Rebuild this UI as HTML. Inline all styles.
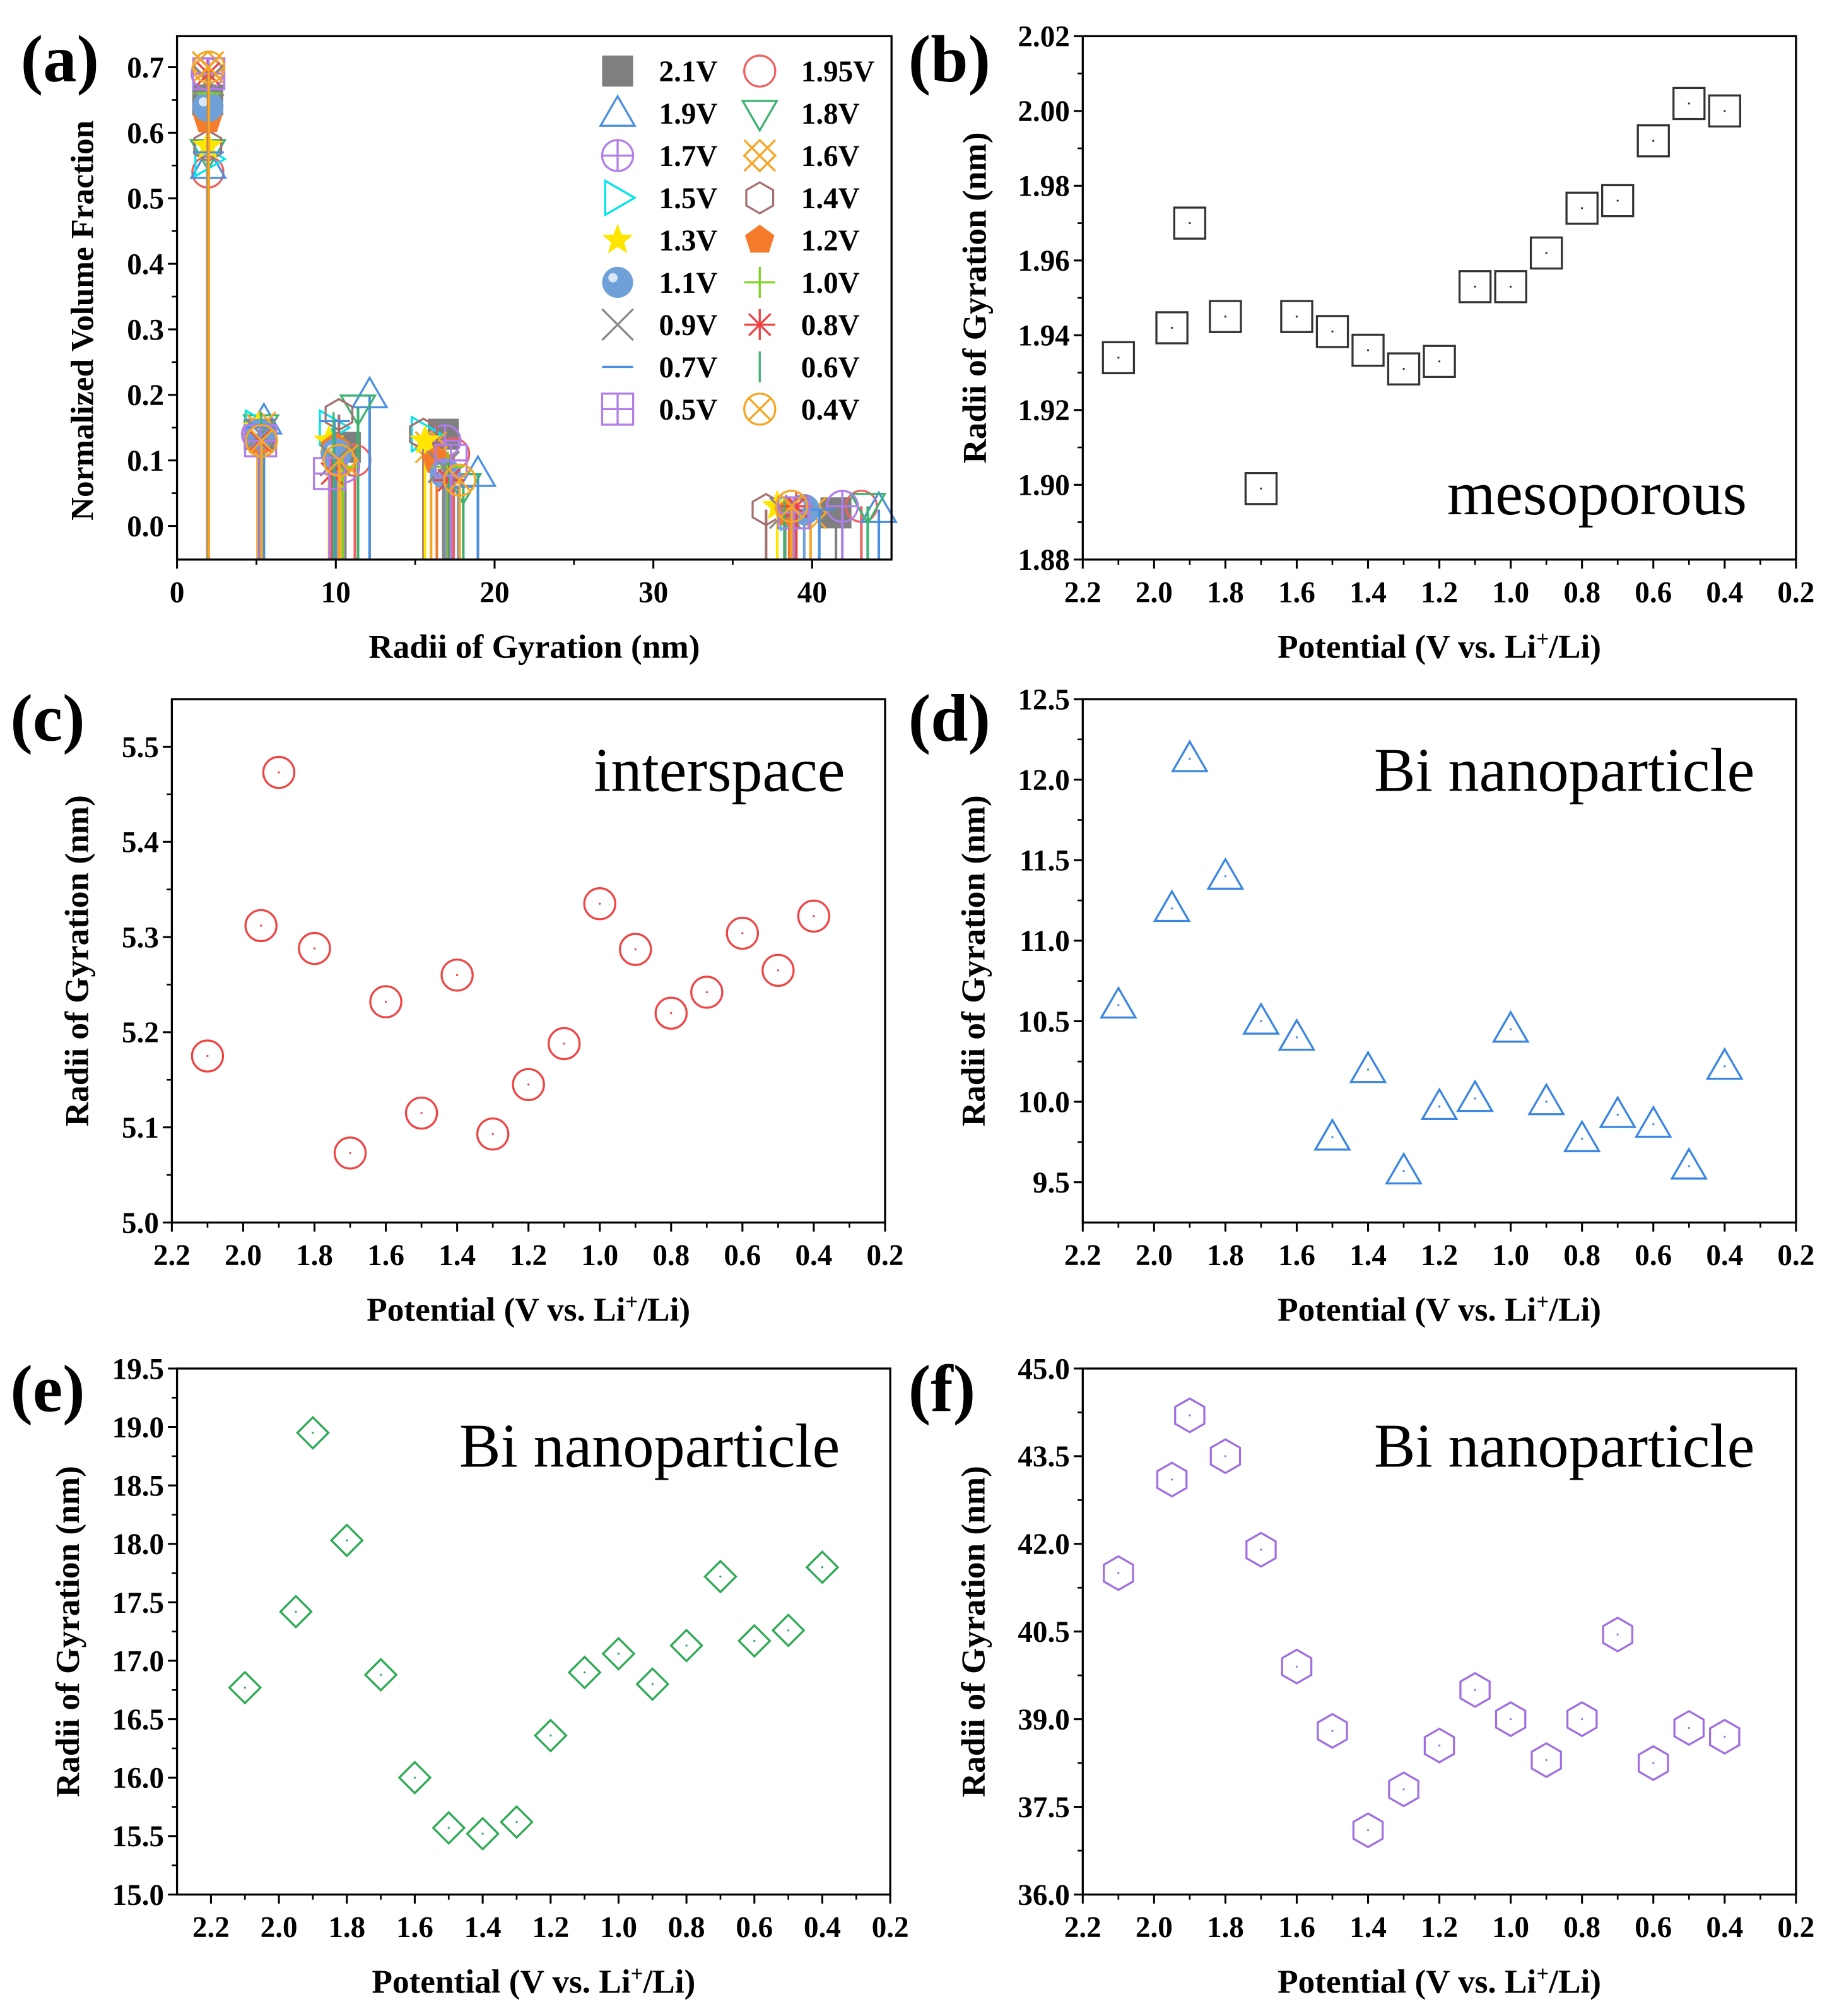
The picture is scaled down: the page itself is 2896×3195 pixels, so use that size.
<!DOCTYPE html>
<html><head><meta charset="utf-8"><style>
html,body{margin:0;padding:0;background:#fff}
svg{display:block;font-family:"Liberation Serif",serif}
</style></head><body>
<svg id="fig" xmlns="http://www.w3.org/2000/svg" width="2896" height="3195" viewBox="0 0 1414 1560"></svg>
<script>
// ---------- data ----------
const potentials = [2.1,1.95,1.9,1.8,1.7,1.6,1.5,1.4,1.3,1.2,1.1,1.0,0.9,0.8,0.7,0.6,0.5,0.4];
const labels = ["2.1V","1.95V","1.9V","1.8V","1.7V","1.6V","1.5V","1.4V","1.3V","1.2V","1.1V","1.0V","0.9V","0.8V","0.7V","0.6V","0.5V","0.4V"];
const rgMeso = [1.934,1.942,1.970,1.945,1.899,1.945,1.941,1.936,1.931,1.933,1.953,1.953,1.962,1.974,1.976,1.992,2.002,2.000];
const rgInter = [5.175,5.312,5.473,5.288,5.073,5.232,5.115,5.260,5.093,5.145,5.188,5.335,5.287,5.220,5.242,5.304,5.265,5.322];
const rgBi1 = [10.60,11.20,12.13,11.40,10.50,10.40,9.78,10.20,9.57,9.97,10.02,10.45,10.00,9.77,9.92,9.86,9.60,10.22];
const rgBi2 = [16.77,17.42,18.95,18.03,16.88,16.00,15.57,15.52,15.62,16.36,16.90,17.06,16.80,17.13,17.72,17.17,17.26,17.80];
const rgBi3 = [41.5,43.1,44.2,43.5,41.9,39.9,38.8,37.1,37.8,38.55,39.5,39.0,38.3,39.0,40.45,38.25,38.85,38.7];
const vfMeso = [0.65,0.54,0.55,0.57,0.69,0.70,0.56,0.58,0.58,0.62,0.64,0.66,0.68,0.69,0.57,0.55,0.69,0.70];
const vfInter = [0.14,0.13,0.16,0.15,0.14,0.15,0.15,0.14,0.15,0.13,0.14,0.13,0.14,0.13,0.15,0.15,0.13,0.13];
const vfBi1 = [0.12,0.10,0.20,0.18,0.09,0.10,0.15,0.17,0.13,0.12,0.11,0.09,0.10,0.08,0.16,0.15,0.08,0.10];
const vfBi2 = [0.14,0.11,0.08,0.06,0.13,0.12,0.14,0.14,0.13,0.10,0.08,0.09,0.09,0.07,0.06,0.08,0.10,0.07];
const vfBi3 = [0.02,0.03,0.025,0.03,0.03,0.02,0.02,0.025,0.03,0.02,0.025,0.02,0.02,0.03,0.025,0.02,0.02,0.03];
const xTicksA = [0,10,20,30,40];
const yTicksA = [0.0,0.1,0.2,0.3,0.4,0.5,0.6,0.7];
const potTicks = [2.2,2.0,1.8,1.6,1.4,1.2,1.0,0.8,0.6,0.4,0.2];
const yTicksB = [1.88,1.90,1.92,1.94,1.96,1.98,2.00,2.02];
const yTicksC = [5.0,5.1,5.2,5.3,5.4,5.5];
const yTicksD = [9.5,10.0,10.5,11.0,11.5,12.0,12.5];
const yTicksE = [15.0,15.5,16.0,16.5,17.0,17.5,18.0,18.5,19.0,19.5];
const yTicksF = [36.0,37.5,39.0,40.5,42.0,43.5,45.0];

// ---------- helpers ----------
const NS="http://www.w3.org/2000/svg";
const svg=document.getElementById('fig');
function mk(tag,attrs,parent){const e=document.createElementNS(NS,tag);for(const k in attrs)e.setAttribute(k,attrs[k]);(parent||svg).appendChild(e);return e;}
function txt(s,attrs,parent){const e=mk('text',attrs,parent);e.textContent=s;return e;}
function lin(d0,d1,r0,r1){return v=>r0+(v-d0)/(d1-d0)*(r1-r0);}

const colors=["#7f7f7f","#f06060","#4a90e2","#3cb371","#b07ee8","#f5a623","#00e5ee","#a57070","#ffe600","#f57c2a","#6fa0d8","#7ed321","#888888","#f04040","#4a90e2","#3cb371","#b07ee8","#f5a623"];
function marker(g,type,cx,cy,s,col){
  const a={fill:'none',stroke:col,'stroke-width':1.6};
  const h=s/2;
  if(type==='square'){mk('rect',Object.assign({x:cx-h,y:cy-h,width:s,height:s},a),g);}
  else if(type==='fsquare'){mk('rect',{x:cx-h,y:cy-h,width:s,height:s,fill:col},g);}
  else if(type==='circle'){mk('circle',Object.assign({cx:cx,cy:cy,r:h},a),g);}
  else if(type==='tri'){mk('polygon',Object.assign({points:`${cx},${cy-h*1.1} ${cx-h*1.1},${cy+h*0.8} ${cx+h*1.1},${cy+h*0.8}`},a),g);}
  else if(type==='dtri'){mk('polygon',Object.assign({points:`${cx},${cy+h*1.1} ${cx-h*1.1},${cy-h*0.8} ${cx+h*1.1},${cy-h*0.8}`},a),g);}
  else if(type==='diamond'){mk('polygon',Object.assign({points:`${cx},${cy-h} ${cx+h},${cy} ${cx},${cy+h} ${cx-h},${cy}`},a),g);}
  else if(type==='hex'){let p=[];for(let i=0;i<6;i++){const t=Math.PI/6+i*Math.PI/3;p.push((cx+h*Math.cos(t)).toFixed(1)+','+(cy+h*Math.sin(t)).toFixed(1));}mk('polygon',Object.assign({points:p.join(' ')},a),g);}
  else if(type==='cplus'){mk('circle',Object.assign({cx:cx,cy:cy,r:h},a),g);mk('path',Object.assign({d:`M${cx-h},${cy}H${cx+h}M${cx},${cy-h}V${cy+h}`},a),g);}
  else if(type==='xdia'){mk('path',Object.assign({d:`M${cx-h},${cy-h}L${cx+h},${cy+h}M${cx+h},${cy-h}L${cx-h},${cy+h}M${cx},${cy-h}L${cx+h},${cy}L${cx},${cy+h}L${cx-h},${cy}Z`},a),g);}
  else if(type==='rtri'){mk('polygon',Object.assign({points:`${cx+h*1.1},${cy} ${cx-h*0.8},${cy-h*1.1} ${cx-h*0.8},${cy+h*1.1}`},a),g);}
  else if(type==='star'){let p=[];for(let i=0;i<10;i++){const r=i%2?h*0.45:h*1.05;const t=-Math.PI/2+i*Math.PI/5;p.push((cx+r*Math.cos(t)).toFixed(1)+','+(cy+r*Math.sin(t)).toFixed(1));}mk('polygon',{points:p.join(' '),fill:col},g);}
  else if(type==='pent'){let p=[];for(let i=0;i<5;i++){const t=-Math.PI/2+i*2*Math.PI/5;p.push((cx+h*Math.cos(t)).toFixed(1)+','+(cy+h*Math.sin(t)).toFixed(1));}mk('polygon',{points:p.join(' '),fill:col},g);}
  else if(type==='sphere'){mk('circle',{cx:cx,cy:cy,r:h,fill:col},g);mk('circle',{cx:cx-h*0.3,cy:cy-h*0.3,r:h*0.3,fill:'#d8e6f5'},g);}
  else if(type==='plus'){mk('path',Object.assign({d:`M${cx-h},${cy}H${cx+h}M${cx},${cy-h}V${cy+h}`},a),g);}
  else if(type==='x'){mk('path',Object.assign({d:`M${cx-h},${cy-h}L${cx+h},${cy+h}M${cx+h},${cy-h}L${cx-h},${cy+h}`},a),g);}
  else if(type==='ast'){mk('path',Object.assign({d:`M${cx-h},${cy}H${cx+h}M${cx},${cy-h}V${cy+h}M${cx-h*0.7},${cy-h*0.7}L${cx+h*0.7},${cy+h*0.7}M${cx+h*0.7},${cy-h*0.7}L${cx-h*0.7},${cy+h*0.7}`},a),g);}
  else if(type==='dash'){mk('path',Object.assign({d:`M${cx-h},${cy}H${cx+h}`},a),g);}
  else if(type==='vbar'){mk('path',Object.assign({d:`M${cx},${cy-h}V${cy+h}`},a),g);}
  else if(type==='splus'){mk('rect',Object.assign({x:cx-h,y:cy-h,width:s,height:s},a),g);mk('path',Object.assign({d:`M${cx-h},${cy}H${cx+h}M${cx},${cy-h}V${cy+h}`},a),g);}
  else if(type==='cx'){mk('circle',Object.assign({cx:cx,cy:cy,r:h},a),g);const q=h*0.7;mk('path',Object.assign({d:`M${cx-q},${cy-q}L${cx+q},${cy+q}M${cx+q},${cy-q}L${cx-q},${cy+q}`},a),g);}
}
const types=["fsquare","circle","tri","dtri","cplus","xdia","rtri","hex","star","pent","sphere","plus","x","ast","dash","vbar","splus","cx"];

function frame(g,L,T,R,B){mk('rect',{x:L,y:T,width:R-L,height:B-T,fill:'none',stroke:'#000','stroke-width':1.6},g);}
function xAxis(g,ticks,sx,B,fmt,minor){
  ticks.forEach((t,i)=>{const x=sx(t);mk('line',{x1:x,y1:B,x2:x,y2:B+7,stroke:'#000','stroke-width':1.5},g);
    const lab=txt(fmt(t),{x:x,y:B+33,'font-size':23,'font-weight':'bold','text-anchor':'middle'},g);
    
    if(minor&&i<ticks.length-1){const xm=sx((t+ticks[i+1])/2);mk('line',{x1:xm,y1:B,x2:xm,y2:B+4,stroke:'#000','stroke-width':1.3},g);}
  });
}
function yAxis(g,ticks,sy,L,fmt){
  ticks.forEach((t,i)=>{const y=sy(t);mk('line',{x1:L,y1:y,x2:L-7,y2:y,stroke:'#000','stroke-width':1.5},g);
    const lab=txt(fmt(t),{x:L-10,y:y+8,'font-size':23,'font-weight':'bold','text-anchor':'end'},g);
    
    if(i<ticks.length-1){const ym=sy((t+ticks[i+1])/2);mk('line',{x1:L,y1:ym,x2:L-4,y2:ym,stroke:'#000','stroke-width':1.3},g);}
  });
}
function titles(g,L,T,R,B,xt,yt,yoff,letter,lx,ly,ycen,yfs){
  const xa=txt('',{x:(L+R)/2,y:B+76,'font-size':26,'font-weight':'bold','text-anchor':'middle'},g);
  
  if(xt==='pot'){xa.appendChild(document.createTextNode('Potential (V vs. Li'));const s=document.createElementNS(NS,'tspan');s.setAttribute('dy','-9');s.setAttribute('font-size','17');s.textContent='+';xa.appendChild(s);const s2=document.createElementNS(NS,'tspan');s2.setAttribute('dy','9');s2.textContent='/Li)';xa.appendChild(s2);}
  else xa.textContent=xt;
  const cy=ycen||(T+B)/2, cx=L-yoff;
  const ya=txt(yt,{x:cx,y:cy,'font-size':yfs||26,'font-weight':'bold','text-anchor':'middle',transform:`rotate(-90 ${cx} ${cy})`},g);
  
  const pl=txt(letter,{x:lx,y:ly,'font-size':52,'font-weight':'bold'},g);
  
}

function scatterPanel(name,L,T,R,B,x0,x1,y0,y1,ys,yt,fmt,vals,type,col,note,letter,lx,ly,yoff){
  const g=mk('g',{});
  
  const sx=lin(x0,x1,L,R), sy=lin(y0,y1,B,T);
  frame(g,L,T,R,B);
  xAxis(g,potTicks,sx,B,t=>t.toFixed(1),true);
  yAxis(g,ys,sy,L,fmt);
  titles(g,L,T,R,B,'pot','Radii of Gyration (nm)',yoff,letter,lx,ly);
  vals.forEach((v,i)=>{const m=mk('g',{},g);
    
    const cx=sx(potentials[i]),cy=sy(v);
    marker(m,type,cx,cy,type==='hex'?26:24,col);
    mk('circle',{cx:cx,cy:cy,r:0.8,fill:col},m);
  });
  const n=txt(note.t,{x:note.x,y:note.y,'font-size':48,'text-anchor':'end'},g);
  
}

// ---------- panel (a) ----------
(function(){
  const L=137,T=28,R=690,B=433;
  const g=mk('g',{});
  
  const sx=lin(0,45,L,R), sy=lin(0,0.7,407,52);
  xAxis(g,xTicksA,sx,B,t=>String(t),true);
  yAxis(g,yTicksA,sy,L,t=>t.toFixed(1));
  titles(g,L,T,R,B,'Radii of Gyration (nm)','Normalized Volume Fraction',65,'(a)',16,63,248,25);
  const groups=[[rgMeso,vfMeso],[rgInter,vfInter],[rgBi1,vfBi1],[rgBi2,vfBi2],[rgBi3,vfBi3]];
  for(let i=0;i<potentials.length;i++){
    const sg=mk('g',{},g);
    
    groups.forEach(([rg,vf])=>{
      const x=sx(rg[i]),y=sy(vf[i]);
      mk('line',{x1:x,y1:y,x2:x,y2:B,stroke:colors[i],'stroke-width':2},sg);
      marker(sg,types[i],x,y,24,colors[i]);
    });
  }
  frame(g,L,T,R,B);
  // legend
  const lg=mk('g',{},g);
  
  for(let i=0;i<labels.length;i++){
    const col=i%2,row=Math.floor(i/2);
    const mx=col?588:478,y=55+row*32.7;
    const e=mk('g',{},lg);
    
    marker(e,types[i],mx,y,24,colors[i]);
    txt(labels[i],{x:mx+32,y:y+8,'font-size':23,'font-weight':'bold'},e);
  }
})();

// ---------- panels (b)-(f) ----------
scatterPanel('panel-b',838,28,1390,433,2.2,0.2,1.88,2.02,yTicksB,'',t=>t.toFixed(2),rgMeso,'square','#333',{t:'mesoporous',x:1352,y:398},'(b)',703,63,75);
scatterPanel('panel-c',133,541,685,946,2.2,0.2,5.0,5.55,yTicksC,'',t=>t.toFixed(1),rgInter,'circle','#ee4444',{t:'interspace',x:654,y:612},'(c)',8,573,65);
scatterPanel('panel-d',838,541,1390,946,2.2,0.2,9.25,12.5,yTicksD,'',t=>t.toFixed(1),rgBi1,'tri','#3a86e0',{t:'Bi nanoparticle',x:1358,y:612},'(d)',703,573,76);
scatterPanel('panel-e',137,1059,689,1466,2.3,0.2,15.0,19.5,yTicksE,'',t=>t.toFixed(1),rgBi2,'diamond','#2eaa55',{t:'Bi nanoparticle',x:650,y:1135},'(e)',8,1092,76);
scatterPanel('panel-f',838,1059,1390,1466,2.2,0.2,36.0,45.0,yTicksF,'',t=>t.toFixed(1),rgBi3,'hex','#a070e0',{t:'Bi nanoparticle',x:1358,y:1135},'(f)',703,1092,76);
</script>
</body></html>
